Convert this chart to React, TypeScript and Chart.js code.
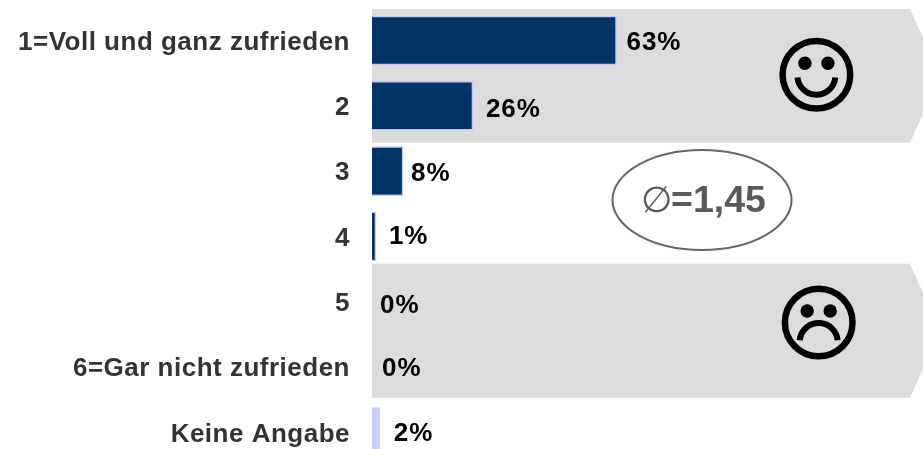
import React, { useEffect, useRef } from "react";
import { Chart, registerables } from "chart.js";

Chart.register(...registerables);

const categories = ["1=Voll und ganz zufrieden", "2", "3", "4", "5", "6=Gar nicht zufrieden", "Keine Angabe"];
const percentages = [63, 26, 8, 1, 0, 0, 2];
const meanLabel = "=1,45";
const meanSymbol = "\u2205";

const FONT = "'Liberation Sans', Arial, sans-serif";
const barColors = ["#003366", "#003366", "#003366", "#003366", "transparent", "transparent", "#CCCCFF"];
const labelDx = [10, 13, 8, 13, 8, 10, 14];
const labelDy = [2, 4, 3, 0, 4, 2, 1];

const decorPlugin = {
  id: "decor",
  beforeDraw(chart: any) {
    chart.ctx.letterSpacing = "0.5px";
  },
  beforeDatasetsDraw(chart: any) {
    const { ctx } = chart;
    const y = chart.scales.y;
    const left = chart.chartArea.left;
    const band = (a: number, b: number, dTop: number, dBottom: number) => {
      const top = y.getPixelForValue(a) + dTop;
      const bottom = y.getPixelForValue(b) + dBottom;
      const mid = (top + bottom) / 2;
      ctx.save();
      ctx.fillStyle = "#DCDCDC";
      ctx.beginPath();
      ctx.moveTo(left, top);
      ctx.lineTo(910, top);
      ctx.lineTo(940, mid);
      ctx.lineTo(910, bottom);
      ctx.lineTo(left, bottom);
      ctx.closePath();
      ctx.fill();
      ctx.restore();
    };
    band(0, 1, -31.5, 37);
    band(4, 5, -38, 30.8);
  },
  afterDatasetsDraw(chart: any) {
    const { ctx } = chart;
    const x = chart.scales.x;
    const y = chart.scales.y;
    ctx.save();
    // value labels
    ctx.fillStyle = "#000000";
    ctx.letterSpacing = "1px";
    ctx.font = `bold 26px ${FONT}`;
    ctx.textAlign = "left";
    ctx.textBaseline = "middle";
    percentages.forEach((v, i) => {
      ctx.fillText(`${v}%`, x.getPixelForValue(v) + labelDx[i], y.getPixelForValue(i) + labelDy[i]);
    });
    // mean ellipse
    ctx.letterSpacing = "0px";
    ctx.strokeStyle = "#666666";
    ctx.lineWidth = 2;
    ctx.beginPath();
    ctx.ellipse(702, 200, 89.5, 50, 0, 0, Math.PI * 2);
    ctx.stroke();
    ctx.fillStyle = "#595959";
    ctx.font = `36px ${FONT}`;
    ctx.fillText(meanSymbol, 641, 202);
    ctx.font = `bold 37.5px ${FONT}`;
    ctx.fillText(meanLabel, 671, 202);
    // smiley faces
    ctx.strokeStyle = "#000000";
    ctx.fillStyle = "#000000";
    const face = (cx: number, cy: number, happy: boolean) => {
      ctx.lineWidth = 6.5;
      ctx.beginPath();
      ctx.arc(cx, cy, 33.8, 0, Math.PI * 2);
      ctx.stroke();
      [-11.5, 11.5].forEach((d) => {
        ctx.beginPath();
        ctx.arc(cx + d, cy - 11.5, 6.7, 0, Math.PI * 2);
        ctx.fill();
      });
      ctx.lineWidth = 6;
      ctx.lineCap = "butt";
      ctx.beginPath();
      if (happy) ctx.arc(cx, cy + 1, 19, 0.03 * Math.PI, 0.97 * Math.PI);
      else ctx.arc(cx, cy + 19.5, 19, 1.03 * Math.PI, 1.97 * Math.PI);
      ctx.stroke();
    };
    face(816.4, 74.7, true);
    face(818.7, 322.5, false);
    ctx.restore();
  },
};

export default function App() {
  const ref = useRef<HTMLCanvasElement>(null);
  useEffect(() => {
    if (!ref.current) return;
    const chart = new Chart(ref.current, {
      type: "bar",
      data: {
        labels: categories,
        datasets: [
          {
            data: percentages,
            backgroundColor: barColors,
            borderColor: "#C4C8F4",
            borderWidth: percentages.map((v, i) => (v > 0 && i < 6 ? 1.5 : 0)),
            barThickness: 49,
          },
        ],
      },
      options: {
        indexAxis: "y",
        responsive: false,
        animation: false,
        layout: { padding: { top: 7.8, bottom: 0, left: 0, right: 163 } },
        plugins: { legend: { display: false }, tooltip: { enabled: false } },
        scales: {
          x: { display: false, min: 0, max: 100 },
          y: {
            grid: { display: false, drawTicks: false },
            border: { display: false },
            ticks: {
              color: "#333333",
              padding: 22,
              autoSkip: false,
              labelOffset: 2,
              font: { family: FONT, size: 26, weight: "bold" },
            },
            afterFit(scale: any) {
              scale.width = 372;
              scale.paddingTop = 0;
              scale.paddingBottom = 0;
            },
          },
        },
      },
      plugins: [decorPlugin],
    } as any);
    return () => chart.destroy();
  }, []);
  return (
    <div style={{ position: "fixed", left: 0, top: 0, width: 923, height: 449, overflow: "hidden", background: "#fff" }}>
      <canvas ref={ref} width={923} height={465} style={{ display: "block" }} />
    </div>
  );
}
